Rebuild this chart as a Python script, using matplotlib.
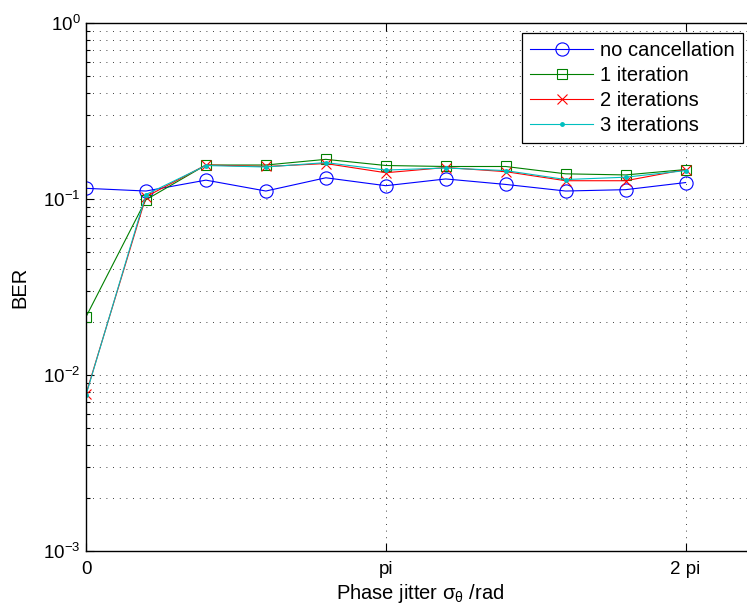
import numpy as np
import matplotlib
matplotlib.use("Agg")
import matplotlib.pyplot as plt
from matplotlib.ticker import LogLocator, FixedLocator, FuncFormatter, NullFormatter

plt.rcParams['font.family'] = ['Liberation Sans', 'DejaVu Sans']
plt.rcParams['mathtext.fontset'] = 'custom'
plt.rcParams['mathtext.rm'] = 'Liberation Sans'
plt.rcParams['mathtext.it'] = 'Liberation Sans:italic'
plt.rcParams['mathtext.sf'] = 'Liberation Sans'

# Phase jitter values (multiples of pi)
jitter_pi = [0.0, 0.2, 0.4, 0.6, 0.8, 1.0, 1.2, 1.4, 1.6, 1.8, 2.0]

ber_none = [0.115, 0.111, 0.128, 0.111, 0.132, 0.119, 0.130, 0.121, 0.111, 0.113, 0.124]
ber_it1 = [0.0214, 0.099, 0.156, 0.156, 0.168, 0.155, 0.153, 0.153, 0.139, 0.137, 0.147]
ber_it2 = [0.0078, 0.103, 0.156, 0.153, 0.159, 0.141, 0.151, 0.143, 0.127, 0.127, 0.147]
ber_it3 = [0.0077, 0.106, 0.155, 0.152, 0.161, 0.146, 0.150, 0.145, 0.129, 0.133, 0.145]

labels = ['no cancellation', '1 iteration', '2 iterations', '3 iterations']
xtick_labels = ['0', 'pi', '2 pi']

fs_tick = 13.5
fs_text = 14.5
W, H = 747, 614
fig = plt.figure(figsize=(W / 100, H / 100), dpi=100)
ax = fig.add_axes([86 / W, (H - 551) / H, (754 - 86) / W, (551 - 23) / H])

x = np.array(jitter_pi) * np.pi
lw = 0.8
ax.plot(x, ber_none, color=(0, 0, 1), lw=lw, marker='o', ms=9.5, mfc='none', mew=0.8, label=labels[0])
ax.plot(x, ber_it1, color=(0, 0.5, 0), lw=lw, marker='s', ms=7.5, mfc='none', mew=0.8, label=labels[1])
ax.plot(x, ber_it2, color=(1, 0, 0), lw=lw, marker='x', ms=7.5, mew=0.8, label=labels[2])
ax.plot(x, ber_it3, color=(0, 0.75, 0.75), lw=lw, marker='.', ms=5, label=labels[3])

ax.set_yscale('log')
ax.set_ylim(1e-3, 1)
ax.set_xlim(0, 7)

ax.xaxis.set_major_locator(FixedLocator([0, np.pi, 2 * np.pi]))
ax.set_xticklabels(xtick_labels)
ax.yaxis.set_major_locator(LogLocator(base=10, numticks=10))
ax.yaxis.set_minor_locator(LogLocator(base=10, subs=np.arange(2, 10), numticks=10))
ax.yaxis.set_minor_formatter(NullFormatter())
ax.yaxis.set_major_formatter(FuncFormatter(
    lambda v, p: r'$\mathregular{10^{%d}}$' % int(round(np.log10(v)))))

ax.tick_params(which='both', direction='in', top=True, right=True, labelsize=fs_tick, width=0.8)
ax.tick_params(which='major', length=6)
ax.tick_params(which='minor', length=3)
ax.tick_params(axis='x', pad=7)
ax.tick_params(axis='y', pad=4)

grid_style = dict(color='black', linestyle=(0, (1, 7)), linewidth=0.6)
ax.grid(True, which='major', axis='both', **grid_style)
ax.grid(True, which='minor', axis='y', **grid_style)
ax.set_axisbelow(True)

for sp in ax.spines.values():
    sp.set_linewidth(1.0)

ax.set_xlabel(r'Phase jitter $\mathregular{\sigma_{\theta}}$ /rad', fontsize=fs_text, labelpad=3)
ax.set_ylabel('BER', fontsize=fs_text, labelpad=10)

leg = ax.legend(loc='upper right', bbox_to_anchor=(743 / W, (H - 33) / H),
                bbox_transform=fig.transFigure, fontsize=fs_text, fancybox=False,
                edgecolor='black', framealpha=1, handlelength=3.1, handletextpad=0.35,
                labelspacing=0.29, borderpad=0.42, borderaxespad=0)
leg.get_frame().set_linewidth(0.9)

fig.savefig('out.png', dpi=100)
